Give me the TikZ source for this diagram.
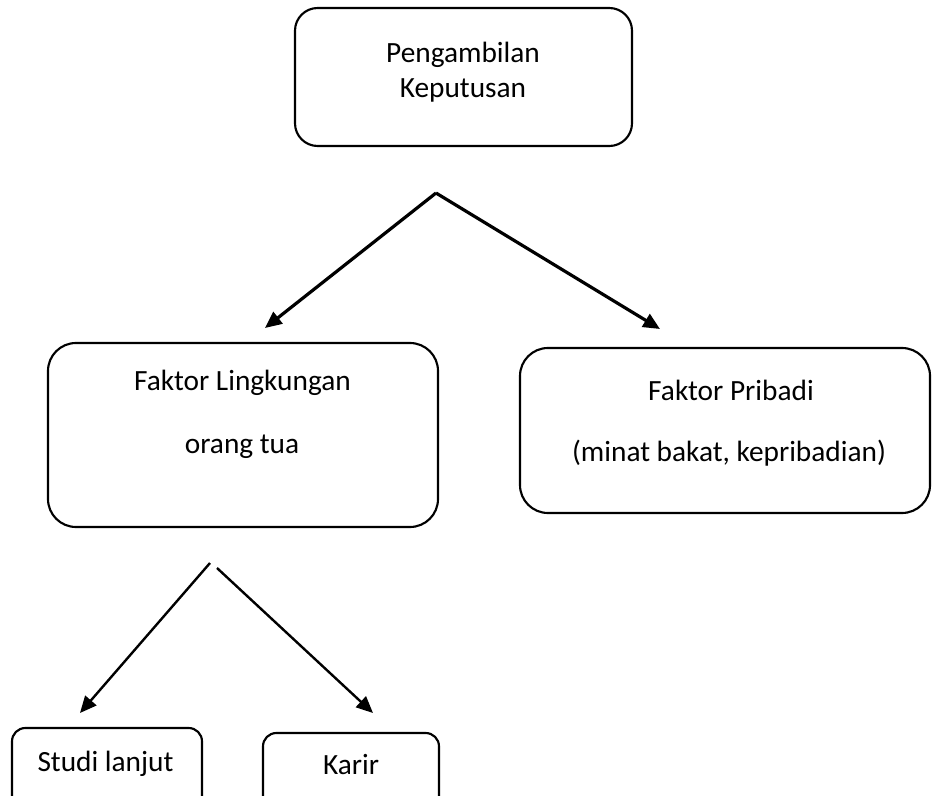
\documentclass[tikz,border=0pt]{standalone}
\usepackage{fontspec}
\setmainfont{Carlito}
\usetikzlibrary{arrows.meta}
\begin{document}
\begin{tikzpicture}[x=0.75pt,y=-0.75pt,
  box/.style={draw=black, line width=1.6pt, rounded corners=#1, inner sep=0pt},
  box/.default=18pt,
  lbl/.style={anchor=base, inner sep=0pt, font=\fontsize{22}{26}\selectfont},
  arr/.style={line width=#1, -{Triangle[length=12.5pt,width=11pt]}},
  arr/.default=2pt]
\useasboundingbox (0,0) rectangle (932,796);
\clip (0,0) rectangle (932,796);

% boxes
\node[box=17pt, minimum width={337*0.75pt}, minimum height={138*0.75pt}] (top) at (463.5,77) {};
\node[box=21pt, minimum width={390*0.75pt}, minimum height={184*0.75pt}] (env) at (243,435) {};
\node[box=21pt, minimum width={410*0.75pt}, minimum height={165*0.75pt}] (pers) at (725,430.5) {};
\node[box=10pt, minimum width={190*0.75pt}, minimum height={84*0.75pt}] (studi) at (107,770) {};
\node[box=10pt, minimum width={176*0.75pt}, minimum height={84*0.75pt}] (karir) at (351,775) {};

% texts
\node[lbl] (t1a) at (463,62) {Pengambilan};
\node[lbl] (t1b) at (463,97) {Keputusan};
\node[lbl] (t2a) at (242.5,390) {Faktor Lingkungan};
\node[lbl] (t2b) at (242,453) {orang tua};
\node[lbl] (t3a) at (731,400) {Faktor Pribadi};
\node[lbl] (t3b) at (729,461) {(minat bakat, kepribadian)};
\node[lbl] (t4) at (105.5,771) {Studi lanjut};
\node[lbl] (t5) at (351,774) {Karir};

% connector end points
\coordinate (apexT) at (436,193);
\coordinate (tipL) at (265,328);
\coordinate (tipR) at (660,329);
\coordinate (apexBL) at (210,563);
\coordinate (apexBR) at (217,568);
\coordinate (tipBL) at (80,713);
\coordinate (tipBR) at (373,713);

\draw[arr=2.4pt] (apexT) -- (tipL);
\draw[arr=2.4pt] (apexT) -- (tipR);
\draw[arr=1.8pt] (apexBL) -- (tipBL);
\draw[arr=1.8pt] (apexBR) -- (tipBR);
\end{tikzpicture}
\end{document}
